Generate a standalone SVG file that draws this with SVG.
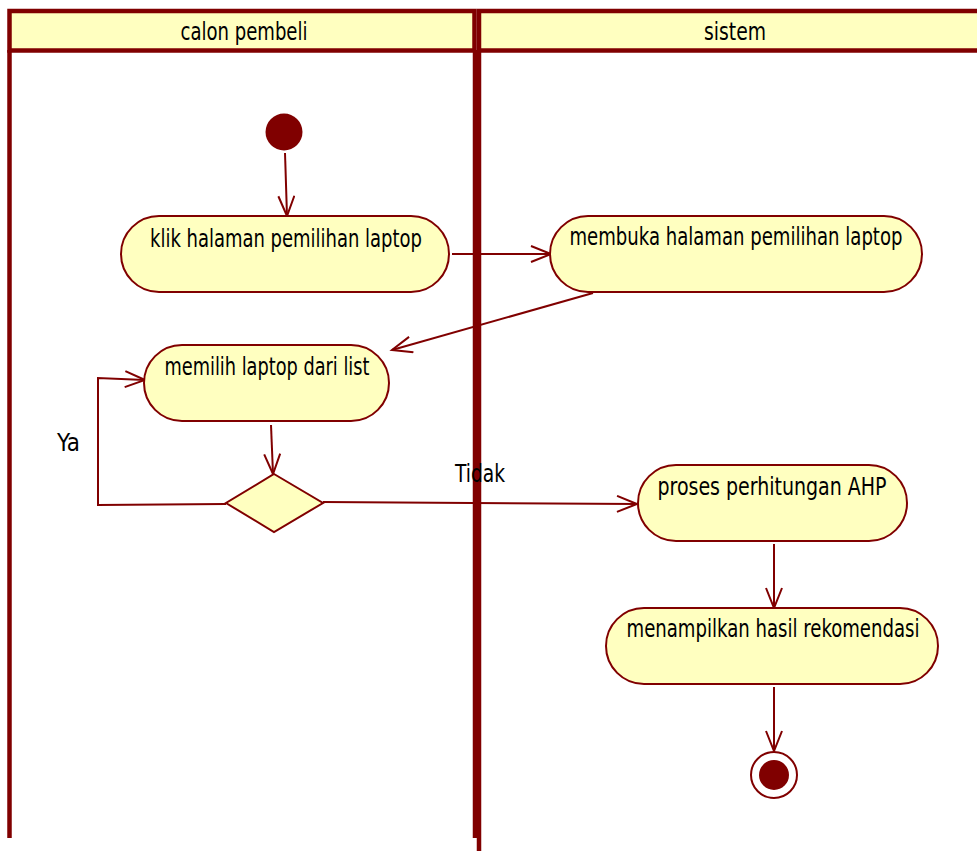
<svg xmlns="http://www.w3.org/2000/svg" width="977" height="851" viewBox="0 0 977 851">
  <style>
    .lane { fill: none; stroke: #800000; stroke-width: 4.5; }
    .hdr { fill: #FFFFC0; stroke: #800000; stroke-width: 4.5; }
    .act { fill: #FFFFC0; stroke: #800000; stroke-width: 2; }
    .flow { fill: none; stroke: #800000; stroke-width: 2; }
    .lbl { font-family: "DejaVu Sans Condensed", "DejaVu Sans", sans-serif; font-size: 24px; fill: #000; }
  </style>
  <defs>
    <marker id="arrow" markerUnits="userSpaceOnUse" markerWidth="26" markerHeight="20" refX="21" refY="9" orient="auto">
      <path d="M1,1 L21,9 L1,17" fill="none" stroke="#800000" stroke-width="2"/>
    </marker>
  </defs>

  <rect width="977" height="851" fill="#ffffff"/>

  <!-- swimlanes -->
  <g id="lane-calon-pembeli">
    <rect class="hdr" x="9.5" y="11" width="465" height="39.5"/>
    <path class="lane" d="M9.5,50 V838 M475,50 V838"/>
    <text class="lbl" x="244" y="40" text-anchor="middle" textLength="127" lengthAdjust="spacingAndGlyphs">calon pembeli</text>
  </g>
  <g id="lane-sistem">
    <rect class="hdr" x="479" y="11" width="510" height="39.5"/>
    <path class="lane" d="M479,50 V851"/>
    <text class="lbl" x="735" y="40" text-anchor="middle" textLength="62" lengthAdjust="spacingAndGlyphs">sistem</text>
  </g>

  <!-- connectors -->
  <g id="connectors">
    <path class="flow" d="M285,153 L287,216" marker-end="url(#arrow)"/>
    <path class="flow" d="M452,254 L551,254" marker-end="url(#arrow)"/>
    <path class="flow" d="M593,293 L392,350" marker-end="url(#arrow)"/>
    <path class="flow" d="M271,425 L273,474" marker-end="url(#arrow)"/>
    <path class="flow" d="M226,504 L98,505 L98,378 L145,380" marker-end="url(#arrow)"/>
    <path class="flow" d="M323,502 L637,504" marker-end="url(#arrow)"/>
    <path class="flow" d="M774,544 L774,608" marker-end="url(#arrow)"/>
    <path class="flow" d="M774,687 L774,751" marker-end="url(#arrow)"/>
    <text class="lbl" x="57" y="451" textLength="23" lengthAdjust="spacingAndGlyphs">Ya</text>
    <text class="lbl" x="455" y="482" textLength="50" lengthAdjust="spacingAndGlyphs">Tidak</text>
  </g>

  <!-- nodes -->
  <g id="start">
    <circle cx="284" cy="132" r="18.5" fill="#800000"/>
  </g>
  <g id="klik-halaman">
    <rect class="act" x="121" y="216" width="328" height="76" rx="38" ry="38"/>
    <text class="lbl" x="286" y="247" text-anchor="middle" textLength="272" lengthAdjust="spacingAndGlyphs">klik halaman pemilihan laptop</text>
  </g>
  <g id="membuka-halaman">
    <rect class="act" x="550" y="216" width="372" height="76" rx="38" ry="38"/>
    <text class="lbl" x="736" y="245" text-anchor="middle" textLength="333" lengthAdjust="spacingAndGlyphs">membuka halaman pemilihan laptop</text>
  </g>
  <g id="memilih-laptop">
    <rect class="act" x="144" y="345" width="245" height="76" rx="38" ry="38"/>
    <text class="lbl" x="267" y="375" text-anchor="middle" textLength="205" lengthAdjust="spacingAndGlyphs">memilih laptop dari list</text>
  </g>
  <g id="decision">
    <polygon class="act" points="274,474 323,503 274,532 226,503"/>
  </g>
  <g id="proses-ahp">
    <rect class="act" x="638" y="465" width="269" height="76" rx="38" ry="38"/>
    <text class="lbl" x="772" y="495" text-anchor="middle" textLength="229" lengthAdjust="spacingAndGlyphs">proses perhitungan AHP</text>
  </g>
  <g id="menampilkan-hasil">
    <rect class="act" x="606" y="608" width="332" height="76" rx="38" ry="38"/>
    <text class="lbl" x="773" y="637" text-anchor="middle" textLength="293" lengthAdjust="spacingAndGlyphs">menampilkan hasil rekomendasi</text>
  </g>
  <g id="end">
    <circle cx="774" cy="775" r="23" fill="#ffffff" stroke="#800000" stroke-width="2"/>
    <circle cx="774" cy="775" r="15" fill="#800000"/>
  </g>
</svg>
